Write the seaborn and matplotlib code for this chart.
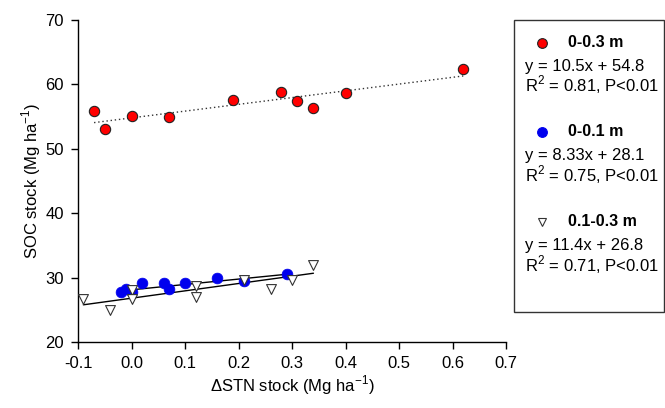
import numpy as np
import pandas as pd
import seaborn as sns
import matplotlib
matplotlib.use("Agg")
from matplotlib import pyplot as plt
from matplotlib.patches import Rectangle

# data
x_03 = [-0.07, -0.05, 0.0, 0.07, 0.19, 0.28, 0.31, 0.34, 0.40, 0.62]
y_03 = [55.8, 53.0, 55.1, 54.9, 57.5, 58.8, 57.4, 56.4, 58.7, 62.4]

x_01 = [-0.02, -0.01, 0.0, 0.02, 0.06, 0.07, 0.10, 0.16, 0.21, 0.29]
y_01 = [27.8, 28.2, 27.8, 29.1, 29.1, 28.3, 29.1, 30.0, 29.5, 30.5]

x_13 = [-0.09, -0.04, 0.0, 0.0, 0.12, 0.12, 0.21, 0.26, 0.30, 0.34]
y_13 = [26.7, 24.9, 28.0, 26.6, 28.7, 27.0, 29.7, 28.2, 29.6, 32.0]

depths = ['0-0.3 m', '0-0.1 m', '0.1-0.3 m']
slopes = [10.5, 8.33, 11.4]
intercepts = [54.8, 28.1, 26.8]
r2 = [0.81, 0.75, 0.71]

df = pd.DataFrame({
    'x': x_03 + x_01 + x_13,
    'y': y_03 + y_01 + y_13,
    'depth': [depths[0]] * len(x_03) + [depths[1]] * len(x_01) + [depths[2]] * len(x_13),
})

sns.set_style('ticks')
plt.rcParams['font.family'] = ['Liberation Sans', 'DejaVu Sans']
plt.rcParams['mathtext.fontset'] = 'custom'
plt.rcParams['mathtext.rm'] = 'Liberation Sans'
for key in ['text.color', 'axes.labelcolor', 'xtick.color', 'ytick.color']:
    plt.rcParams[key] = 'black'

fig = plt.figure(figsize=(6.65, 4.08), dpi=100)
ax = fig.add_axes([0.1173, 0.1618, 0.6437, 0.7892])

# trend lines over the range of each series
line_styles = [dict(color='#333333', ls=(0, (1, 2)), lw=1.0),
               dict(color='black', ls='-', lw=1.0),
               dict(color='black', ls='-', lw=1.0)]
for xs, k, b, st in zip([x_03, x_01, x_13], slopes, intercepts, line_styles):
    xx = np.array([min(xs), max(xs)])
    ax.plot(xx, k * xx + b, zorder=1, **st)

sub = df[df.depth == depths[0]]
sns.scatterplot(data=sub, x='x', y='y', ax=ax, color='red', edgecolor='#222222',
                linewidth=0.8, s=55, marker='o', zorder=3, legend=False)
sub = df[df.depth == depths[1]]
sns.scatterplot(data=sub, x='x', y='y', ax=ax, color='#0000ee', edgecolor='#0000ee',
                linewidth=0.5, s=60, marker='o', zorder=3, legend=False)
sub = df[df.depth == depths[2]]
sns.scatterplot(data=sub, x='x', y='y', ax=ax, color='white', edgecolor='#333333',
                linewidth=0.8, s=50, marker='v', zorder=4, legend=False)

ax.set_xlim(-0.1, 0.7)
ax.set_ylim(20, 70)
ax.set_xticks(np.arange(-0.1, 0.71, 0.1))
ax.set_xticklabels(['-0.1', '0.0', '0.1', '0.2', '0.3', '0.4', '0.5', '0.6', '0.7'])
ax.set_yticks([20, 30, 40, 50, 60, 70])
ax.tick_params(direction='out', length=5, width=1, labelsize=12, pad=5, color='black')
sns.despine(ax=ax)
for s in ['left', 'bottom']:
    ax.spines[s].set_linewidth(1.0)
    ax.spines[s].set_color('black')
ax.set_xlabel('ΔSTN stock (Mg ha$^{-1}$)', fontsize=12, labelpad=2)
ax.set_ylabel('SOC stock (Mg ha$^{-1}$)', fontsize=12, labelpad=2)

# legend box on the right
fig.patches.append(Rectangle((514 / 665, 1 - 312 / 408), 150 / 665, 292 / 408,
                             transform=fig.transFigure, fill=False,
                             edgecolor='#333333', lw=1.0))
leg_y = [42.7, 131.7, 221.7]
mk = [dict(marker='o', color='red', mec='#222222', ms=7),
      dict(marker='o', color='#0000ee', mec='#0000ee', ms=7),
      dict(marker='v', color='white', mec='#333333', ms=6)]
for i in range(3):
    yy = 1 - leg_y[i] / 408
    fig.add_artist(plt.Line2D([541.7 / 665], [yy], transform=fig.transFigure,
                              ls='none', mew=0.8, **mk[i]))
    fig.text(568 / 665, yy, depths[i], fontsize=11.5, fontweight='bold', va='center')
    fig.text(525 / 665, 1 - (leg_y[i] + 23.5) / 408,
             'y = %sx + %s' % (slopes[i], intercepts[i]), fontsize=12, va='center')
    fig.text(525 / 665, 1 - (leg_y[i] + 42.5) / 408,
             'R$^2$ = %.2f, P<0.01' % r2[i], fontsize=12, va='center')

fig.savefig('out.png', dpi=100)
